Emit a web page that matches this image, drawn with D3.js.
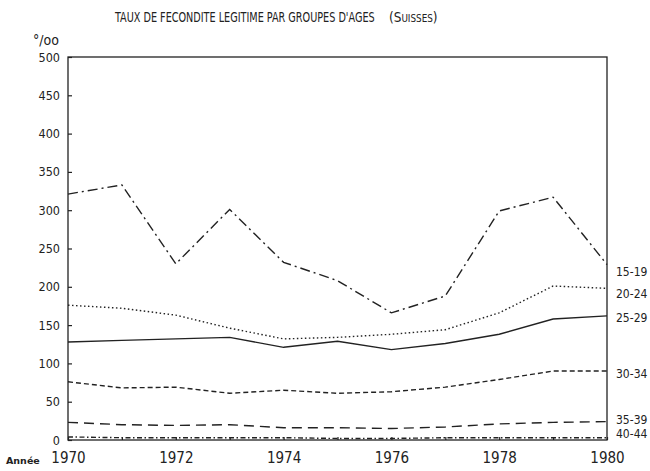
<!DOCTYPE html>
<html>
<head>
<meta charset="utf-8">
<script src="https://cdn.jsdelivr.net/npm/d3@7"></script>
<style>
	body { margin: 0; background: #fff; }
	.canvas text { fill: #222; }
</style>
</head>
<body>
<div class="canvas"></div>
<script>
// data (per mille)
const years = [1970, 1971, 1972, 1973, 1974, 1975, 1976, 1977, 1978, 1979, 1980];
const ageGroups = ['15-19', '20-24', '25-29', '30-34', '35-39', '40-44'];
const rate15_19 = [321, 333, 230, 301, 232, 208, 166, 188, 299, 317, 229];
const rate20_24 = [176, 172, 163, 146, 132, 134, 138, 144, 166, 201, 198];
const rate25_29 = [128, 130, 132, 134, 121, 129, 118, 126, 138, 158, 162];
const rate30_34 = [76, 68, 69, 61, 65, 61, 63, 69, 79, 90, 90];
const rate35_39 = [23, 20, 19, 20, 16, 16, 15, 17, 21, 23, 24];
const rate40_44 = [4, 3, 3, 3, 3, 2, 2, 3, 3, 3, 3];
const yTicks = [0, 50, 100, 150, 200, 250, 300, 350, 400, 450, 500];
const xTickLabels = [1970, 1972, 1974, 1976, 1978, 1980];

const series = [rate15_19, rate20_24, rate25_29, rate30_34, rate35_39, rate40_44];
const dashes = ['10,4,2,4', '1.5,2.5', null, '5,3', '10,6', '5,2.5,1.5,2.5'];
const labelNudge = [7, 5, 2, 3, -2, -4];

const condensed = 'DejaVu Sans Condensed, DejaVu Sans, sans-serif';

const svg = d3.select('.canvas').append('svg')
	.attr('width', 650)
	.attr('height', 471);

const margins = {top: 57, right: 43, bottom: 31, left: 68};
const graphWidth = 650 - margins.left - margins.right;
const graphHeight = 471 - margins.top - margins.bottom;

const graph = svg.append('g')
	.attr('transform', `translate(${margins.left}, ${margins.top})`);

const x = d3.scaleLinear()
	.domain([1970, 1980])
	.range([0, graphWidth]);

const y = d3.scaleLinear()
	.domain([0, 500])
	.range([graphHeight, 0]);

// frame
graph.append('rect')
	.attr('width', graphWidth)
	.attr('height', graphHeight)
	.attr('fill', 'none')
	.attr('stroke', '#222')
	.attr('stroke-width', 1.3);

// axes
const yAxis = d3.axisLeft(y)
	.tickValues(yTicks)
	.tickSizeInner(-4)
	.tickSizeOuter(0)
	.tickPadding(8);

const xAxis = d3.axisBottom(x)
	.tickValues(years)
	.tickFormat(d => xTickLabels.includes(d) ? d : '')
	.tickSizeInner(-3)
	.tickSizeOuter(0)
	.tickPadding(12);

const yAxisGroup = graph.append('g').call(yAxis);
const xAxisGroup = graph.append('g')
	.attr('transform', `translate(0, ${graphHeight})`)
	.call(xAxis);

[yAxisGroup, xAxisGroup].forEach(g => {
	g.select('.domain').remove();
	g.selectAll('line').attr('stroke', '#222').attr('stroke-width', 1.2);
});

yAxisGroup.selectAll('text')
	.attr('font-family', condensed)
	.attr('font-size', 12.5)
	.attr('fill', '#222');

xAxisGroup.selectAll('text')
	.attr('font-family', condensed)
	.attr('font-size', 15)
	.attr('fill', '#222');

// lines
const line = d3.line()
	.x((d, i) => x(years[i]))
	.y(d => y(d));

graph.selectAll('path.rate')
	.data(series)
	.enter()
	.append('path')
	.attr('class', 'rate')
	.attr('d', line)
	.attr('fill', 'none')
	.attr('stroke', '#222')
	.attr('stroke-width', 1.4)
	.attr('stroke-dasharray', (d, i) => dashes[i]);

// labels at right end
graph.selectAll('text.group')
	.data(series)
	.enter()
	.append('text')
	.attr('class', 'group')
	.attr('x', graphWidth + 9)
	.attr('y', (d, i) => y(d[d.length - 1]) + labelNudge[i])
	.attr('dy', '0.35em')
	.attr('font-family', condensed)
	.attr('font-size', 12)
	.text((d, i) => ageGroups[i]);

// title: squeeze horizontally to the narrow typewriter width
const fitText = (txt, x0, width, caps) => {
	const t = svg.append('text')
		.attr('font-family', condensed)
		.attr('font-size', 14)
		.style('font-variant', caps ? 'small-caps' : null)
		.text(txt);
	const w = t.node().getComputedTextLength();
	t.attr('transform', `translate(${x0}, 22) scale(${width / w}, 1)`);
};
fitText("TAUX DE FECONDITE LEGITIME PAR GROUPES D'AGES", 115, 260, false);
fitText('(Suisses)', 389, 48, true);

// unit and year label
svg.append('text')
	.attr('x', 33)
	.attr('y', 45)
	.attr('font-family', condensed)
	.attr('font-size', 14)
	.text('°/oo');

svg.append('text')
	.attr('x', 6)
	.attr('y', 464)
	.attr('font-family', 'DejaVu Sans, sans-serif')
	.attr('font-weight', 'bold')
	.attr('font-size', 9.5)
	.text('Année');
</script>
</body>
</html>
